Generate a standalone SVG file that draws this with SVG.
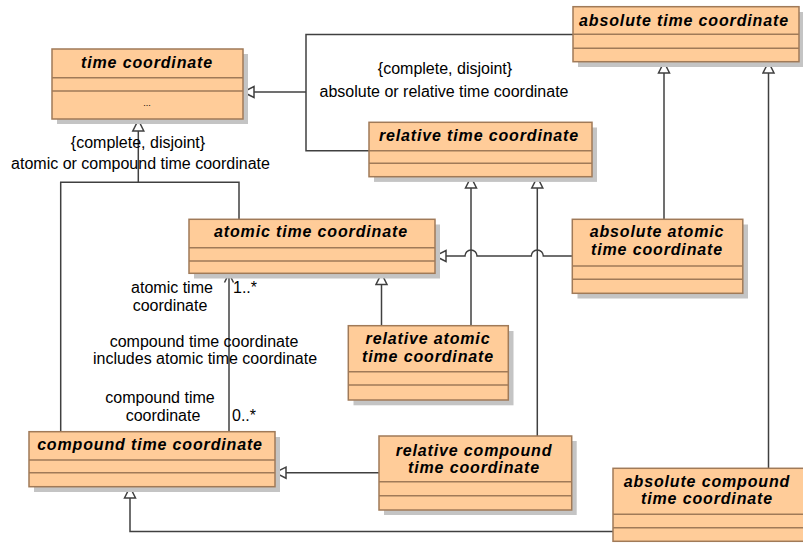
<svg xmlns="http://www.w3.org/2000/svg" width="803" height="543" viewBox="0 0 803 543">
<defs>
<style>
.shadow{fill:#c4c4c4}
.box{fill:#ffcc99;stroke:#a07a58;stroke-width:1.5}
.sep{stroke:#a07a58;stroke-width:1.5;fill:none}
.title{font-family:"Liberation Sans",Arial,sans-serif;font-size:16px;font-weight:bold;font-style:italic;letter-spacing:0.85px;text-anchor:middle;fill:#000}
.lbl{font-family:"Liberation Sans",Arial,sans-serif;font-size:16px;fill:#000}
.mid{text-anchor:middle}
.conn{fill:none;stroke:#404040;stroke-width:1.5}
.gen{marker-end:url(#tri)}
</style>
<marker id="tri" markerUnits="userSpaceOnUse" markerWidth="14" markerHeight="14" viewBox="0 0 14 14" refX="13" refY="7" orient="auto">
<path d="M13,7 L2,1.5 L2,12.5 Z" fill="#fff" stroke="#404040" stroke-width="1.5"/>
</marker>
<marker id="open" markerUnits="userSpaceOnUse" markerWidth="12" markerHeight="12" viewBox="0 0 12 12" refX="11" refY="6" orient="auto">
<path d="M2,1.5 L11,6 L2,10.5" fill="none" stroke="#404040" stroke-width="1.5"/>
</marker>
</defs>

<g id="connectors">
<path class="conn" d="M573,34.5 H306 V150.7 H369"/>
<path class="conn gen" d="M306,92 H243"/>
<path class="conn" d="M60.7,432 V182.3 H239 V219.3"/>
<path class="conn gen" d="M138.3,182.3 V120"/>
<path class="conn gen" d="M664,219.3 V62"/>
<path class="conn gen" d="M768.5,468.3 V62"/>
<path class="conn gen" d="M471,325.7 V177"/>
<path class="conn gen" d="M537.3,436 V177"/>
<path class="conn gen" d="M381.5,325.7 V273.5"/>
<path class="conn gen" d="M572.3,256 H543.3 a6,6 0 0 0 -12,0 H477 a6,6 0 0 0 -12,0 H435"/>
<path class="conn gen" d="M379,472.7 H275"/>
<path class="conn gen" d="M613,531.5 H130 V487"/>
<path class="conn" style="marker-end:url(#open)" d="M229,431.7 V273.5"/>
</g>

<g id="labels">
<text class="lbl mid" x="445" y="74">{complete, disjoint}</text>
<text class="lbl mid" x="444" y="96.7">absolute or relative time coordinate</text>
<text class="lbl mid" x="138" y="147.5">{complete, disjoint}</text>
<text class="lbl mid" x="140.5" y="169.3">atomic or compound time coordinate</text>
<text class="lbl mid" x="172" y="292.7">atomic time</text>
<text class="lbl mid" x="170" y="310.7">coordinate</text>
<text class="lbl" x="233" y="292.7">1..*</text>
<text class="lbl mid" x="204" y="347.3">compound time coordinate</text>
<text class="lbl mid" x="205" y="364.3">includes atomic time coordinate</text>
<text class="lbl mid" x="160" y="403.3">compound time</text>
<text class="lbl mid" x="163" y="421">coordinate</text>
<text class="lbl" x="232" y="421">0..*</text>
</g>

<g id="time-coordinate">
<rect class="shadow" x="57" y="54" width="191" height="70"/>
<rect class="box" x="52" y="49" width="191" height="70"/>
<path class="sep" d="M52,77.7 H243 M52,91 H243"/>
<text class="title" x="147" y="67.5">time coordinate</text>
<text class="lbl mid" x="147" y="106" style="font-size:9px">...</text>
</g>

<g id="absolute-time-coordinate">
<rect class="shadow" x="578" y="12" width="226" height="55"/>
<rect class="box" x="573" y="6.7" width="226" height="55"/>
<path class="sep" d="M573,34.3 H799 M573,48.3 H799"/>
<text class="title" x="684" y="25.5">absolute time coordinate</text>
</g>

<g id="relative-time-coordinate">
<rect class="shadow" x="374" y="127.5" width="223" height="54.4"/>
<rect class="box" x="369" y="122.3" width="223" height="54.4"/>
<path class="sep" d="M369,150.7 H592 M369,163.3 H592"/>
<text class="title" x="479" y="140.5">relative time coordinate</text>
</g>

<g id="atomic-time-coordinate">
<rect class="shadow" x="194" y="224.5" width="246" height="54"/>
<rect class="box" x="189" y="219.3" width="246" height="54"/>
<path class="sep" d="M189,247.7 H435 M189,261 H435"/>
<text class="title" x="311" y="237">atomic time coordinate</text>
</g>

<g id="absolute-atomic-time-coordinate">
<rect class="shadow" x="577.5" y="224.5" width="170.5" height="74"/>
<rect class="box" x="572.3" y="219.3" width="170.5" height="74"/>
<path class="sep" d="M572.3,266 H742.8 M572.3,279.3 H742.8"/>
<text class="title" x="657" y="236.7">absolute atomic</text>
<text class="title" x="657" y="255">time coordinate</text>
</g>

<g id="relative-atomic-time-coordinate">
<rect class="shadow" x="353.5" y="331" width="160" height="74.3"/>
<rect class="box" x="348.3" y="325.7" width="160" height="74.3"/>
<path class="sep" d="M348.3,371.7 H508.3 M348.3,385 H508.3"/>
<text class="title" x="428" y="344">relative atomic</text>
<text class="title" x="428" y="361.7">time coordinate</text>
</g>

<g id="compound-time-coordinate">
<rect class="shadow" x="34" y="437" width="246" height="55"/>
<rect class="box" x="29" y="431.7" width="246" height="55"/>
<path class="sep" d="M29,460 H275 M29,472.7 H275"/>
<text class="title" x="150" y="450">compound time coordinate</text>
</g>

<g id="relative-compound-time-coordinate">
<rect class="shadow" x="384" y="441" width="192.7" height="74"/>
<rect class="box" x="379" y="436" width="192.7" height="74"/>
<path class="sep" d="M379,481.7 H571.7 M379,495.7 H571.7"/>
<text class="title" x="474" y="455.7">relative compound</text>
<text class="title" x="474" y="473.3">time coordinate</text>
</g>

<g id="absolute-compound-time-coordinate">
<rect class="box" x="613" y="468.3" width="200" height="73"/>
<path class="sep" d="M613,514.2 H813 M613,527.7 H813"/>
<text class="title" x="707" y="486.7">absolute compound</text>
<text class="title" x="707" y="504.3">time coordinate</text>
</g>
</svg>
